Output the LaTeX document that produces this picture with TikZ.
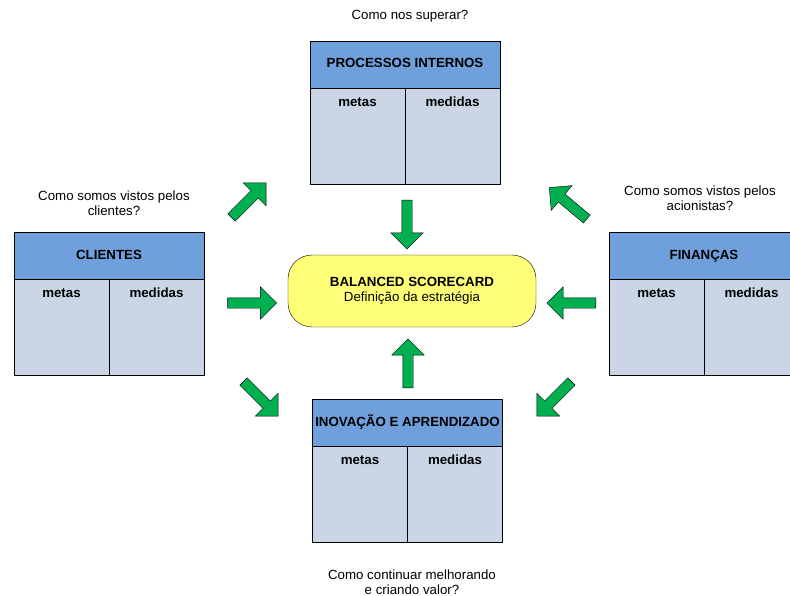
\documentclass[tikz,border=0pt]{standalone}
\usepackage{fontspec}
\setmainfont{Liberation Sans}
\usetikzlibrary{positioning, shapes.arrows}
\definecolor{headblue}{RGB}{112,160,220}
\definecolor{cellblue}{RGB}{202,214,230}
\definecolor{bsyellow}{RGB}{255,255,120}
\definecolor{arrowgreen}{RGB}{0,176,80}

\begin{document}
\begin{tikzpicture}[x=1pt,y=-1pt,
    font=\fontsize{13.3}{15.5}\selectfont,
    headbox/.style={minimum width=190pt,minimum height=47pt,draw,fill=headblue,inner sep=0pt,outer sep=0pt,text height=10pt,text depth=3pt,font=\fontsize{13.3}{15.5}\selectfont\bfseries},
    cellbox/.style={minimum width=95pt,minimum height=96pt,draw,fill=cellblue,inner sep=0pt,outer sep=0pt},
    celltext/.style={anchor=north,font=\fontsize{13.3}{15.5}\selectfont\bfseries,inner sep=0pt,text height=10pt,text depth=3pt},
    greenarrow/.style={single arrow,draw=black,fill=arrowgreen,minimum height=49pt,inner sep=5pt,single arrow head extend=11pt,thin}]
        \useasboundingbox (0,0) rectangle (790,596);
        \clip (0,0) rectangle (790,596);

        % processos internos
        \node[headbox] (proc) at (405,64.5) {PROCESSOS INTERNOS};
        \node[cellbox, anchor=north west] (proc_metas) at (proc.south west) {};
        \node[cellbox, right=0pt of proc_metas] (proc_medidas) {};
        \node[celltext, below=8pt] at (proc_metas.north) {metas};
        \node[celltext, below=8pt] at (proc_medidas.north) {medidas};
        \node (proc_q) at (410,16) {Como nos superar?};

        % clientes
        \node[headbox] (cli) at (109,255.5) {CLIENTES};
        \node[cellbox, anchor=north west] (cli_metas) at (cli.south west) {};
        \node[cellbox, right=0pt of cli_metas] (cli_medidas) {};
        \node[celltext, below=8pt] at (cli_metas.north) {metas};
        \node[celltext, below=8pt] at (cli_medidas.north) {medidas};
        \node[align=center] (cli_q) at (114,203) {Como somos vistos pelos\\clientes?};

        % financas
        \node[headbox] (fin) at (704,255.5) {FINANÇAS};
        \node[cellbox, anchor=north west] (fin_metas) at (fin.south west) {};
        \node[cellbox, right=0pt of fin_metas] (fin_medidas) {};
        \node[celltext, below=8pt] at (fin_metas.north) {metas};
        \node[celltext, below=8pt] at (fin_medidas.north) {medidas};
        \node[align=center] (fin_q) at (700,198) {Como somos vistos pelos\\acionistas?};

        % inovacao e aprendizado
        \node[headbox] (inov) at (407.5,423) {INOVAÇÃO E APRENDIZADO};
        \node[cellbox, anchor=north west] (inov_metas) at (inov.south west) {};
        \node[cellbox, right=0pt of inov_metas] (inov_medidas) {};
        \node[celltext, below=8pt] at (inov_metas.north) {metas};
        \node[celltext, below=8pt] at (inov_medidas.north) {medidas};
        \node[align=center] (inov_q) at (412,582) {Como continuar melhorando\\e criando valor?};

        % balanced scorecard
        \node[draw,fill=bsyellow,rounded corners=24pt,minimum width=248pt,minimum height=72pt,align=center] (bsc) at (412,291)
            {\textbf{BALANCED SCORECARD}\\Definição da estratégia};

        % arrows
        \node[greenarrow, rotate=45] (arr_cli_proc) at (247,202) {};
        \node[greenarrow, rotate=-90] (arr_proc_bsc) at (407,222) {};
        \node[greenarrow, rotate=140] (arr_fin_proc) at (570,205) {};
        \node[greenarrow] (arr_cli_bsc) at (249.5,303) {};
        \node[greenarrow, rotate=180] (arr_fin_bsc) at (574,303) {};
        \node[greenarrow, rotate=90] (arr_inov_bsc) at (408,366) {};
        \node[greenarrow, rotate=-45] (arr_cli_inov) at (259,397) {};
        \node[greenarrow, rotate=-135] (arr_fin_inov) at (556,397) {};

    \end{tikzpicture}
\end{document}
